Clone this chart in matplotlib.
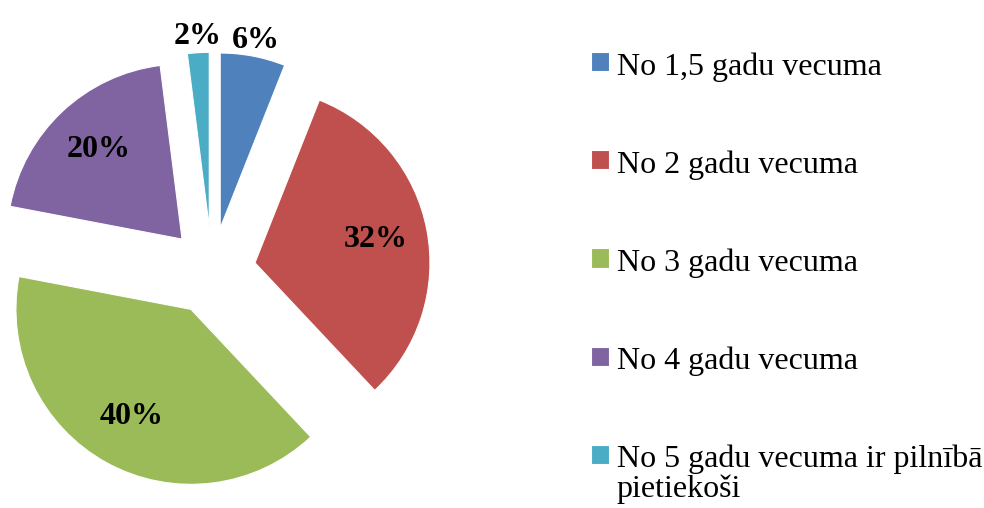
import numpy as np
import matplotlib.pyplot as plt

plt.rcParams["font.family"] = ["Liberation Serif", "DejaVu Serif"]

# data
labels = ["No 1,5 gadu vecuma", "No 2 gadu vecuma", "No 3 gadu vecuma",
          "No 4 gadu vecuma", "No 5 gadu vecuma ir pilnībā\npietiekoši"]
shares = [6, 32, 40, 20, 2]
colors = ["#4F81BD", "#C0504D", "#9BBB59", "#8064A2", "#4BACC6"]

W, H = 984, 508
R_PX = 175.0          # pie radius in pixels
CX, CY = 212, 271     # pie centre (pixels from top-left)

fig = plt.figure(figsize=(W / 100, H / 100), dpi=100)
ax = fig.add_axes([0, 0, 1, 1])

wedges, texts, autotexts = ax.pie(
    shares, colors=colors, startangle=90, counterclock=False,
    explode=[0.25] * len(shares), radius=1.0,
    autopct="%d%%", pctdistance=0.7,
    textprops=dict(fontsize=23, fontweight="bold", color="black"),
    wedgeprops=dict(linewidth=0.8, edgecolor="white"),
)
ax.set_aspect("auto")
ax.set_xlim(-CX / R_PX, (W - CX) / R_PX)
ax.set_ylim((CY - H) / R_PX, CY / R_PX)
ax.axis("off")

# small slices get their labels outside, as in the original
for w, t, v in zip(wedges, autotexts, shares):
    if v < 10:
        ang = np.deg2rad((w.theta1 + w.theta2) / 2)
        cx, cy = w.center
        t.set_position((cx + 1.09 * np.cos(ang), cy + 1.09 * np.sin(ang)))

leg = fig.legend(
    wedges, labels, loc="upper left", bbox_to_anchor=(591 / W, 1 - 52 / H),
    frameon=False, fontsize=23, handlelength=0.55, handleheight=0.55,
    handletextpad=0.25, labelspacing=2.15, borderpad=0, borderaxespad=0,
)
for t in leg.get_texts():
    t.set_linespacing(1.0)
# square next to the first line of a wrapped entry
for col in leg._legend_handle_box.get_children():
    for row in col.get_children():
        row.align = "top"

fig.savefig("out.png", dpi=100)
